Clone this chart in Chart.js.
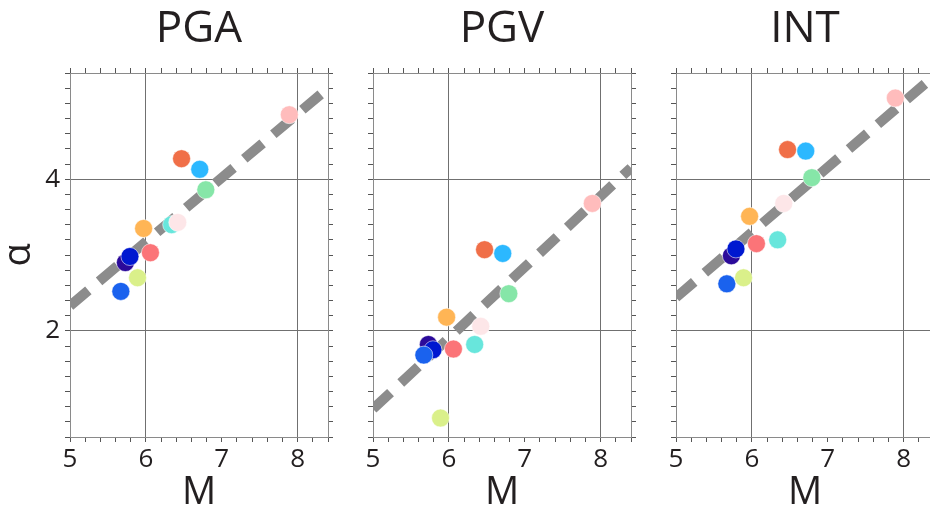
<!DOCTYPE html>
<html>
<head>
<meta charset="utf-8">
<script src="https://cdn.jsdelivr.net/npm/chart.js@4.4.1/dist/chart.umd.min.js"></script>
<style>
    html, body { margin: 0; padding: 0; background: #fff; width: 930px; height: 512px; overflow: hidden; }
    .painel { position: absolute; top: 0; }
</style>
</head>
<body>
<div class="painel" style="left:0px"><canvas id="grap-PGA" width="340" height="512"></canvas></div>
<div class="painel" style="left:303px"><canvas id="grap-PGV" width="340" height="512"></canvas></div>
<div class="painel" style="left:606px"><canvas id="grap-INT" width="340" height="512"></canvas></div>
<script>
// magnitude of each event (same events in the three panels)
const magnitudes = [5.73, 5.79, 5.67, 5.89, 5.97, 6.06, 6.34, 6.42, 6.47, 6.71, 6.79, 7.89]
const cores = ['#2b0a9a', '#0018d0', '#1a62ee', '#daf08a', '#ffb555', '#fb7478',
               '#68e6dc', '#fde6e8', '#f06f48', '#2cb8ff', '#86e6a8', '#ffbcbc']

const alfaPGA = [2.90, 2.98, 2.52, 2.70, 3.35, 3.03, 3.40, 3.43, 4.27, 4.13, 3.86, 4.85]
const alfaPGV = [1.82, 1.75, 1.68, 0.85, 2.18, 1.76, 1.82, 2.06, 3.07, 3.02, 2.49, 3.68]
const alfaINT = [2.99, 3.08, 2.62, 2.70, 3.51, 3.15, 3.20, 3.68, 4.39, 4.37, 4.02, 5.07]

// fitted lines (ends)
const retaM = [5, 8.4]
const retaPGA = [2.33, 5.20]
const retaPGV = [0.97, 4.15]
const retaINT = [2.44, 5.36]

const ticksX = [5, 6, 7, 8]
const ticksY = [2, 4]
const gradeX = [6, 8]
const gradeY = [2, 4]

const fonte = "'Open Sans', 'Noto Sans', sans-serif"
const corTexto = '#231f20'
const corEixo = '#8a8a8a'

function tem(lista, v) {
    return lista.some(t => Math.abs(t - v) < 1e-6)
}

function criarGraf(nome, alfa, reta, mostrarY) {
    const ctx = document.getElementById('grap-' + nome).getContext('2d')

    const pontos = magnitudes.map((m, i) => ({x: m, y: alfa[i]}))
    const linha = retaM.map((m, i) => ({x: m, y: reta[i]}))

    new Chart(ctx, {
        type: 'scatter',
        data: {
            datasets: [{
                data: pontos,
                backgroundColor: cores,
                borderColor: 'rgba(255,255,255,0.55)',
                borderWidth: 1,
                pointRadius: 9,
                pointHoverRadius: 9
            }, {
                type: 'line',
                data: linha,
                showLine: true,
                borderColor: '#8c8c8c',
                borderWidth: 10,
                borderDash: [24, 14],
                borderCapStyle: 'butt',
                pointRadius: 0,
                fill: false
            }]
        },
        options: {
            responsive: false,
            animation: false,
            devicePixelRatio: 1,
            layout: { padding: 0 },
            plugins: { legend: { display: false }, tooltip: { enabled: false } },
            scales: {
                x: {
                    type: 'linear', position: 'bottom', min: 5, max: 8.4,
                    afterFit: s => { s.height = 75 },
                    border: { display: true, color: corEixo, width: 1 },
                    grid: {
                        color: c => (c.tick && tem(gradeX, c.tick.value)) ? '#707070' : 'rgba(0,0,0,0)',
                        tickColor: '#555',
                        tickLength: 5
                    },
                    ticks: {
                        stepSize: 0.2, autoSkip: false, maxRotation: 0, padding: 2,
                        color: corTexto, font: { family: fonte, size: 26 },
                        callback: v => tem(ticksX, v) ? String(Math.round(v)) : ''
                    },
                    title: {
                        display: true, text: 'M', color: corTexto,
                        font: { family: fonte, size: 38, lineHeight: 1 },
                        padding: { top: 0, bottom: 0 }
                    }
                },
                x2: {
                    type: 'linear', position: 'top', min: 5, max: 8.4,
                    afterFit: s => { s.height = 73 },
                    border: { display: true, color: corEixo, width: 1 },
                    grid: { drawOnChartArea: false, tickColor: '#555', tickLength: 5 },
                    ticks: { stepSize: 0.2, display: false },
                    title: {
                        display: true, text: nome, color: corTexto,
                        font: { family: fonte, size: 44, lineHeight: 1.2 },
                        padding: { top: 3, bottom: 0 }
                    }
                },
                y: {
                    type: 'linear', position: 'left', min: 0.6, max: 5.4,
                    afterFit: s => { s.width = 70 },
                    border: { display: true, color: corEixo, width: 1 },
                    grid: {
                        color: c => (c.tick && tem(gradeY, c.tick.value)) ? '#707070' : 'rgba(0,0,0,0)',
                        tickColor: '#555',
                        tickLength: 5
                    },
                    ticks: {
                        stepSize: 0.2, autoSkip: false, padding: 5,
                        color: corTexto, font: { family: fonte, size: 26 },
                        callback: v => (mostrarY && tem(ticksY, v)) ? String(Math.round(v)) : ''
                    },
                    title: {
                        display: mostrarY, text: 'α', color: corTexto,
                        font: { family: fonte, size: 38, lineHeight: 1 },
                        padding: { top: 0, bottom: 0 }
                    }
                },
                y2: {
                    type: 'linear', position: 'right', min: 0.6, max: 5.4,
                    afterFit: s => { s.width = 12 },
                    border: { display: true, color: corEixo, width: 1 },
                    grid: { drawOnChartArea: false, tickColor: '#555', tickLength: 5 },
                    ticks: { stepSize: 0.2, display: false }
                }
            }
        }
    })
}

criarGraf('PGA', alfaPGA, retaPGA, true)
criarGraf('PGV', alfaPGV, retaPGV, false)
criarGraf('INT', alfaINT, retaINT, false)
</script>
</body>
</html>
